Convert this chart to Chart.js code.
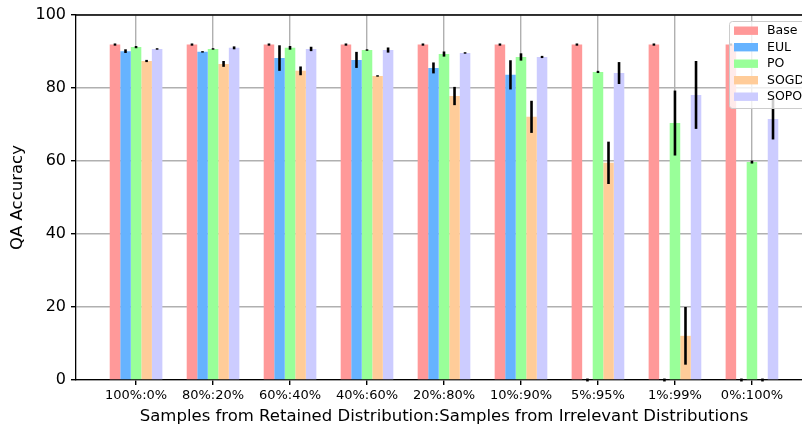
<!DOCTYPE html>
<html>
<head>
<meta charset="utf-8">
<script src="https://cdn.jsdelivr.net/npm/chart.js@4"></script>
<style>
  html, body { margin: 0; padding: 0; background: #fff; overflow: hidden; }
  #wrap { width: 802px; height: 428px; overflow: hidden; }
</style>
</head>
<body>
<div id="wrap"><canvas id="myChart" width="812" height="428"></canvas></div>
<script>
const categories = ["100%:0%", "80%:20%", "60%:40%", "40%:60%", "20%:80%", "10%:90%", "5%:95%", "1%:99%", "0%:100%"];

const base = [91.9, 91.9, 91.9, 91.9, 91.9, 91.9, 91.9, 91.9, 91.9];
const base_err = [0.3, 0.3, 0.3, 0.3, 0.3, 0.3, 0.3, 0.3, 0.3];
const eul = [90.1, 89.9, 88.2, 87.7, 85.5, 83.6, 0, 0, 0];
const eul_err = [0.5, 0.2, 3.5, 2.2, 1.5, 4.0, 0.4, 0.4, 0.4];
const po = [91.2, 90.7, 91.0, 90.4, 89.3, 88.5, 84.4, 70.4, 59.7];
const po_err = [0.3, 0.2, 0.5, 0.2, 0.7, 1.0, 0.3, 8.9, 0.4];
const sogd = [87.4, 86.6, 84.7, 83.3, 77.8, 72.1, 59.5, 12.1, 0];
const sogd_err = [0.3, 0.8, 1.2, 0.2, 2.5, 4.4, 5.8, 7.9, 0.4];
const sopo = [90.7, 91.0, 90.7, 90.4, 89.6, 88.5, 84.1, 78.1, 71.5];
const sopo_err = [0.2, 0.4, 0.6, 0.7, 0.2, 0.3, 3.0, 9.3, 5.6];

const yTicks = [0, 20, 40, 60, 80, 100];

Chart.defaults.font.family = "'DejaVu Sans', sans-serif";
Chart.defaults.color = "#000";

const toPoints = (arr) => arr.map((v, i) => ({ x: i, y: v }));

// error bars, drawn through the scales
const errorBars = {
  id: "errorBars",
  afterDatasetsDraw(chart) {
    const ctx = chart.ctx;
    const y = chart.scales.y;
    ctx.save();
    ctx.strokeStyle = "#000";
    ctx.lineWidth = 2.6;
    chart.data.datasets.forEach((ds, i) => {
      const meta = chart.getDatasetMeta(i);
      meta.data.forEach((bar, j) => {
        const v = ds.data[j].y;
        const e = ds.errors[j];
        ctx.beginPath();
        ctx.moveTo(bar.x, y.getPixelForValue(v - e));
        ctx.lineTo(bar.x, y.getPixelForValue(v + e));
        ctx.stroke();
      });
    });
    ctx.restore();
  },
  afterDraw(chart) {
    const ctx = chart.ctx;
    const a = chart.chartArea;
    ctx.save();
    // top spine
    ctx.strokeStyle = "#000";
    ctx.lineWidth = 1.3;
    ctx.beginPath();
    ctx.moveTo(a.left, a.top);
    ctx.lineTo(a.right, a.top);
    ctx.stroke();

    // legend box
    const lx = 729.5, ly = 21.5, lw = 90, lh = 87;
    ctx.fillStyle = "rgba(255,255,255,0.8)";
    ctx.strokeStyle = "#cccccc";
    ctx.lineWidth = 1;
    ctx.beginPath();
    ctx.roundRect(lx, ly, lw, lh, 3);
    ctx.fill();
    ctx.stroke();
    ctx.font = "12.5px 'DejaVu Sans', sans-serif";
    ctx.textBaseline = "middle";
    chart.data.datasets.forEach((ds, k) => {
      const cy = 30.7 + k * 16.5;
      ctx.fillStyle = ds.backgroundColor;
      ctx.fillRect(734, cy - 4.2, 24, 8.4);
      ctx.fillStyle = "#000";
      ctx.fillText(ds.label, 767, cy + 0.5);
    });
    ctx.restore();
  },
};

new Chart(document.getElementById("myChart"), {
  type: "bar",
  data: {
    datasets: [
      { label: "Base", data: toPoints(base), errors: base_err, backgroundColor: "#ff9999" },
      { label: "EUL", data: toPoints(eul), errors: eul_err, backgroundColor: "#66b3ff" },
      { label: "PO", data: toPoints(po), errors: po_err, backgroundColor: "#99ff99" },
      { label: "SOGD", data: toPoints(sogd), errors: sogd_err, backgroundColor: "#ffcc99" },
      { label: "SOPO", data: toPoints(sopo), errors: sopo_err, backgroundColor: "#ccccff" },
    ],
  },
  options: {
    responsive: false,
    animation: false,
    layout: { padding: { top: 15, left: 0, right: 0, bottom: 0 } },
    datasets: { bar: { categoryPercentage: 0.684, barPercentage: 1.0 } },
    plugins: { legend: { display: false }, tooltip: { enabled: false } },
    scales: {
      x: {
        type: "linear",
        min: -0.78,
        max: 8.78,
        offset: false,
        afterFit: (axis) => { axis.height = 48; },
        afterBuildTicks: (axis) => { axis.ticks = categories.map((c, i) => ({ value: i })); },
        grid: { offset: false, color: "#b0b0b0", lineWidth: 1.4, tickColor: "#000", tickLength: 5 },
        border: { color: "#000", width: 1.3 },
        ticks: {
          autoSkip: false,
          maxRotation: 0,
          padding: 3,
          font: { size: 13 },
          callback: (v) => categories[v],
        },
        title: {
          display: true,
          text: "Samples from Retained Distribution:Samples from Irrelevant Distributions",
          font: { size: 16.5 },
          padding: { top: 1, bottom: 1 },
        },
      },
      y: {
        min: 0,
        max: 100,
        afterFit: (axis) => { axis.width = 76; },
        afterBuildTicks: (axis) => { axis.ticks = yTicks.map((v) => ({ value: v })); },
        grid: { color: "#b0b0b0", lineWidth: 1.4, tickColor: "#000", tickLength: 5 },
        border: { color: "#000", width: 1.3 },
        ticks: { padding: 5, font: { size: 16 } },
        title: {
          display: true,
          text: "QA Accuracy",
          font: { size: 16.5 },
          padding: { top: 8, bottom: 0 },
        },
      },
    },
  },
  plugins: [errorBars],
});
</script>
</body>
</html>
